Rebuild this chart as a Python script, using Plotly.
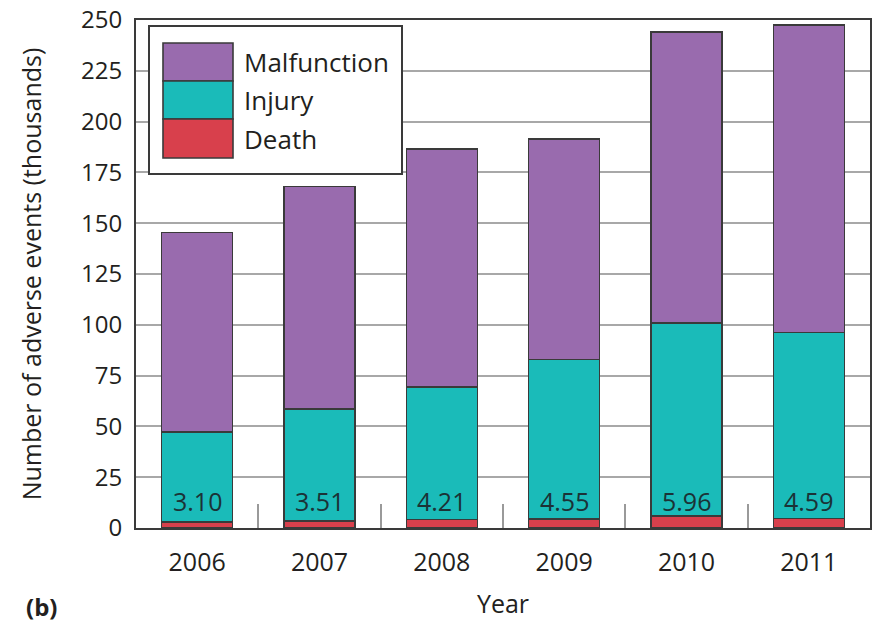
import plotly.graph_objects as go

# Adverse events by year (thousands)
years = ["2006", "2007", "2008", "2009", "2010", "2011"]
death = [3.10, 3.51, 4.21, 4.55, 5.96, 4.59]
injury = [44.2, 55.2, 65.3, 78.3, 95.0, 91.6]
malfunction = [98.2, 109.3, 116.9, 108.5, 143.0, 151.3]

series_names = ["Death", "Injury", "Malfunction"]
series_colors = ["#d8404c", "#1abbb9", "#996bae"]

FONT = "Open Sans"
TEXT = "#231f20"
EDGE = "#3a3a3a"

W, H = 874, 621
L, R, T, B = 136, 4, 20, 93
PW, PH = W - L - R, H - T - B


def px(x):
    return (x - L) / PW


def py(y):
    return (H - B - y) / PH


fig = go.Figure()
for name, vals, col in zip(series_names, [death, injury, malfunction], series_colors):
    fig.add_trace(go.Bar(
        x=years, y=vals, name=name, width=0.58,
        marker=dict(color=col, line=dict(color=EDGE, width=1.6)),
        showlegend=False,
    ))

# death counts written inside each injury segment (x given as category index)
for i, d in enumerate(death):
    fig.add_annotation(x=i, y=0, text=f"{d:.2f}", showarrow=False,
                       yanchor="bottom", yshift=8,
                       font=dict(family=FONT, size=25, color="#1b3236"))

# legend box with stacked swatches
fig.add_shape(type="rect", xref="paper", yref="paper",
              x0=px(149), x1=px(402), y0=py(174), y1=py(26),
              line=dict(color=EDGE, width=2), fillcolor="white")
legend_rows = [("Malfunction", series_colors[2], 43, 81),
               ("Injury", series_colors[1], 81, 119),
               ("Death", series_colors[0], 119, 158)]
for label, col, ya, yb in legend_rows:
    fig.add_shape(type="rect", xref="paper", yref="paper",
                  x0=px(163), x1=px(233), y0=py(yb), y1=py(ya),
                  line=dict(color=EDGE, width=1.6), fillcolor=col)
    fig.add_annotation(xref="paper", yref="paper", x=px(242), y=py((ya + yb) / 2),
                       text=label, showarrow=False, xanchor="left", yanchor="middle",
                       font=dict(family=FONT, size=26, color=TEXT))

fig.add_annotation(xref="paper", yref="paper", x=px(24), y=py(606),
                   text="<b>(b)</b>", showarrow=False, xanchor="left", yanchor="middle",
                   font=dict(family=FONT, size=24, color=TEXT))

fig.update_layout(
    width=W, height=H, barmode="stack",
    margin=dict(l=L, r=R, t=T, b=B, pad=0),
    plot_bgcolor="white", paper_bgcolor="white",
    font=dict(family=FONT, color=TEXT),
)
fig.update_xaxes(
    type="category", automargin=False, tickangle=0, range=[-0.5, 5.5],
    tickson="boundaries", ticks="inside", ticklen=24, tickwidth=1.5, tickcolor="#9a9a9a",
    showline=True, linecolor=EDGE, linewidth=2, mirror=True,
    tickfont=dict(family=FONT, size=25, color=TEXT), ticklabelstandoff=11,
    title=dict(text="Year", font=dict(family=FONT, size=25, color=TEXT), standoff=18),
    showgrid=False,
)
fig.update_yaxes(
    range=[0, 250], dtick=25, tick0=0, automargin=False,
    showline=True, linecolor=EDGE, linewidth=2, mirror=True,
    showgrid=True, gridcolor="#a8a8a8", gridwidth=2, zeroline=False,
    ticks="", tickfont=dict(family=FONT, size=24, color=TEXT), ticklabelstandoff=7,
    title=dict(text="Number of adverse events (thousands)",
               font=dict(family=FONT, size=25, color=TEXT), standoff=32),
)

fig.write_html("out.html")
